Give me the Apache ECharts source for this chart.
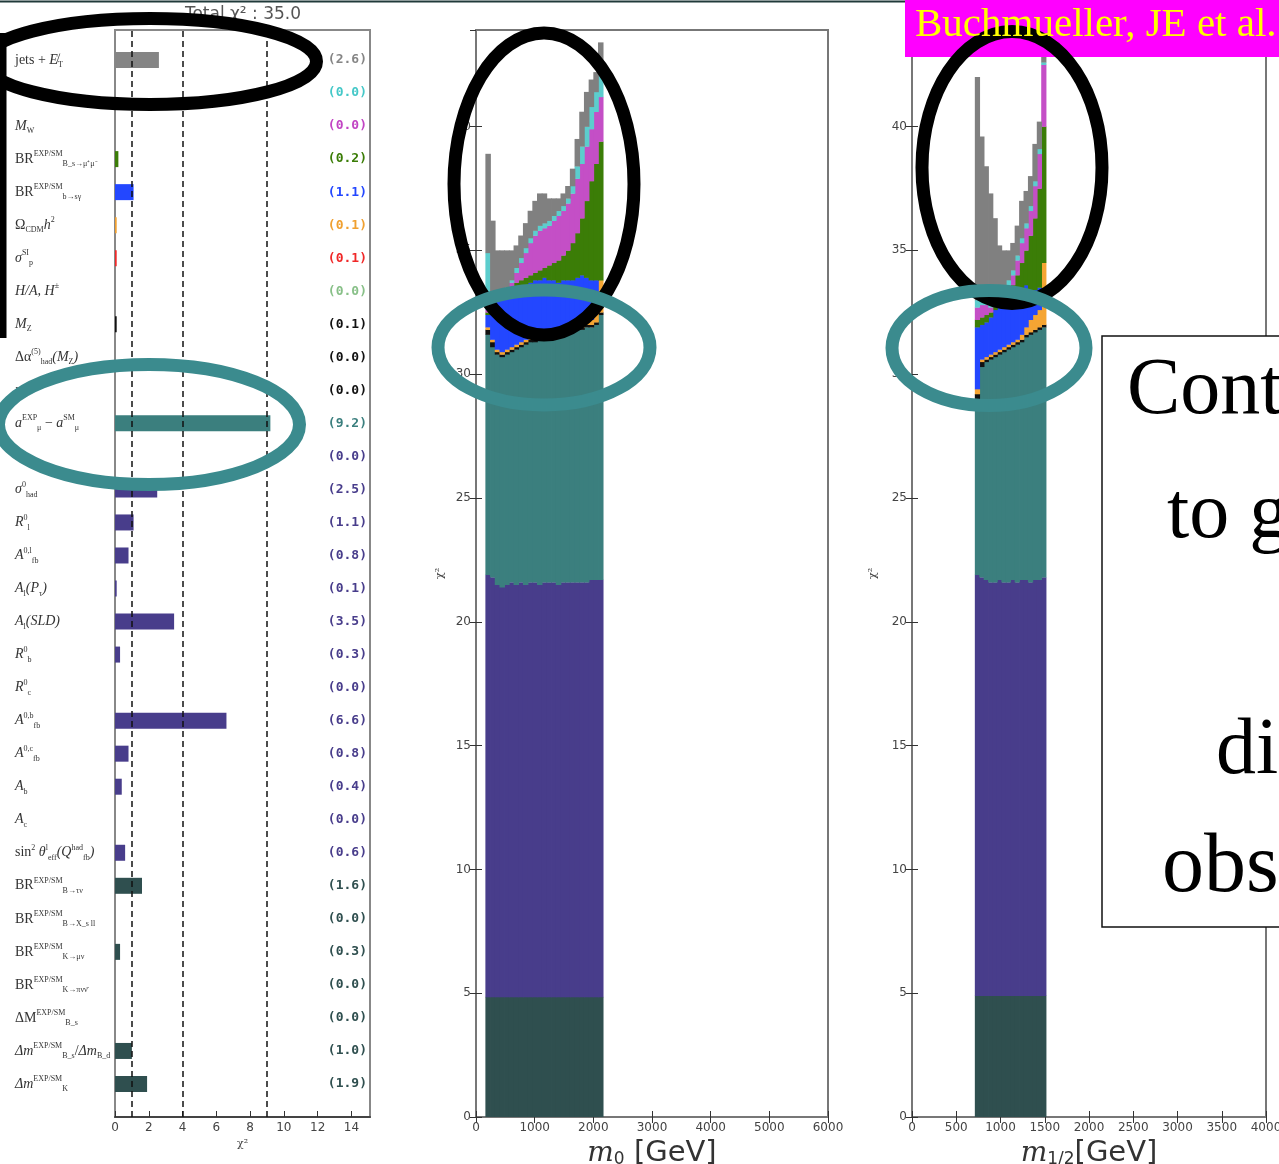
<!DOCTYPE html>
<html><head><meta charset="utf-8">
<script src="https://cdn.jsdelivr.net/npm/echarts/dist/echarts.min.js"></script>
<style>html,body{margin:0;padding:0;background:#fff}#c{width:1279px;height:1164px}</style>
</head><body><div id="c"></div>
<script>
// ---------- left panel: chi2 contributions by observable ----------
const rowLabels = [
  '{r|jets + }{i|E̸}{sb|T}',
  '',
  '{i|M}{sb|W}',
  '{r|BR}{sp|EXP/SM}{sb|B_s→μ⁺μ⁻}',
  '{r|BR}{sp|EXP/SM}{sb|b→sγ}',
  '{r|Ω}{sb|CDM}{i|h}{sp|2}',
  '{i|σ}{sp|SI}{sb|p}',
  '{i|H/A, H}{sp|±}',
  '{i|M}{sb|Z}',
  '{r|Δα}{sp|(5)}{sb|had}{i|(M}{sb|Z}{i|)}',
  '{i|m}{sb|t}',
  '{i|a}{sp|EXP}{sb|μ}{r| − }{i|a}{sp|SM}{sb|μ}',
  '{r|Γ}{sb|Z}',
  '{i|σ}{sp|0}{sb|had}',
  '{i|R}{sp|0}{sb|l}',
  '{i|A}{sp|0,l}{sb|fb}',
  '{i|A}{sb|l}{i|(P}{sb|τ}{i|)}',
  '{i|A}{sb|l}{i|(SLD)}',
  '{i|R}{sp|0}{sb|b}',
  '{i|R}{sp|0}{sb|c}',
  '{i|A}{sp|0,b}{sb|fb}',
  '{i|A}{sp|0,c}{sb|fb}',
  '{i|A}{sb|b}',
  '{i|A}{sb|c}',
  '{r|sin}{sp|2}{r| }{i|θ}{sp|l}{sb|eff}{i|(Q}{sp|had}{sb|fb}{i|)}',
  '{r|BR}{sp|EXP/SM}{sb|B→τν}',
  '{r|BR}{sp|EXP/SM}{sb|B→X_s ll}',
  '{r|BR}{sp|EXP/SM}{sb|K→μν}',
  '{r|BR}{sp|EXP/SM}{sb|K→πνν̄}',
  '{r|ΔM}{sp|EXP/SM}{sb|B_s}',
  '{i|Δm}{sp|EXP/SM}{sb|B_s}{r|/}{i|Δm}{sb|B_d}',
  '{i|Δm}{sp|EXP/SM}{sb|K}'
];
const rowValues = [2.6, 0.0, 0.0, 0.2, 1.1, 0.1, 0.1, 0.0, 0.1, 0.0, 0.0, 9.2, 0.0, 2.5, 1.1, 0.8,
                   0.1, 3.5, 0.3, 0.0, 6.6, 0.8, 0.4, 0.0, 0.6, 1.6, 0.0, 0.3, 0.0, 0.0, 1.0, 1.9];
const rowColors = ['#858585', '#45c8c8', '#c244c4', '#3b7d07', '#2347ff', '#f0a030', '#f02828', '#88c088',
  '#111111', '#111111', '#111111', '#3b7f7e',
  '#483d8b', '#483d8b', '#483d8b', '#483d8b', '#483d8b', '#483d8b', '#483d8b', '#483d8b', '#483d8b',
  '#483d8b', '#483d8b', '#483d8b', '#483d8b',
  '#2f4f4f', '#2f4f4f', '#2f4f4f', '#2f4f4f', '#2f4f4f', '#2f4f4f', '#2f4f4f'];
const refLines = [1, 4, 9];
const totalChi2 = 35.0;

// ---------- middle panel: stacked chi2 vs m0 (cumulative layer tops) ----------
const m0Centers = [200, 280, 360, 440, 520, 600, 680, 760, 840, 920, 1000, 1080, 1160, 1240, 1320, 1400, 1480, 1560, 1640, 1720, 1800, 1880, 1960, 2040, 2120];
const m0BinWidth = 80;
const m0SlateTop   = [4.85, 4.85, 4.85, 4.85, 4.85, 4.85, 4.85, 4.85, 4.85, 4.85, 4.85, 4.85, 4.85, 4.85, 4.85, 4.85, 4.85, 4.85, 4.85, 4.85, 4.85, 4.85, 4.85, 4.85, 4.85];
const m0PurpleTop  = [21.9, 21.8, 21.5, 21.4, 21.5, 21.6, 21.5, 21.6, 21.5, 21.6, 21.6, 21.5, 21.6, 21.6, 21.6, 21.5, 21.6, 21.6, 21.6, 21.6, 21.6, 21.6, 21.7, 21.7, 21.7];
const m0TealTop    = [31.6, 31.1, 30.8, 30.7, 30.8, 30.9, 31.0, 31.1, 31.2, 31.3, 31.3, 31.4, 31.5, 31.5, 31.6, 31.6, 31.6, 31.7, 31.7, 31.8, 31.8, 31.9, 31.9, 32.0, 32.4];
const m0BlackTop   = [31.8, 31.3, 30.9, 30.8, 30.9, 31.0, 31.1, 31.2, 31.3, 31.4, 31.4, 31.5, 31.6, 31.6, 31.7, 31.7, 31.7, 31.8, 31.8, 31.9, 31.9, 32.0, 32.0, 32.1, 32.5];
const m0OrangeTop  = [31.9, 31.4, 31.0, 30.9, 31.0, 31.1, 31.2, 31.3, 31.4, 31.5, 31.5, 31.6, 31.7, 31.7, 31.8, 31.8, 31.8, 31.9, 31.9, 32.0, 32.0, 32.1, 32.2, 32.5, 33.8];
const m0BlueTop    = [32.4, 32.7, 33.0, 33.1, 33.2, 33.3, 33.4, 33.5, 33.6, 33.7, 33.8, 33.8, 33.9, 33.8, 33.8, 33.7, 33.8, 33.8, 33.8, 33.9, 34.0, 33.9, 33.8, 33.8, 33.8];
const m0GreenTop   = [32.5, 32.8, 33.1, 33.2, 33.3, 33.5, 33.7, 33.8, 33.9, 34.0, 34.1, 34.2, 34.3, 34.4, 34.5, 34.6, 34.8, 35.0, 35.3, 35.7, 36.3, 37.0, 37.8, 38.5, 39.4];
const m0MagentaTop = [32.6, 32.9, 33.2, 33.3, 33.4, 33.7, 34.1, 34.5, 34.9, 35.3, 35.6, 35.8, 35.9, 36.0, 36.2, 36.4, 36.6, 36.9, 37.3, 37.9, 38.5, 39.2, 39.9, 40.6, 41.2];
const m0CyanTop    = [34.9, 33.1, 33.3, 33.4, 33.5, 33.8, 34.3, 34.7, 35.1, 35.5, 35.8, 36.0, 36.1, 36.2, 36.4, 36.6, 36.8, 37.1, 37.6, 38.4, 39.2, 40.0, 40.8, 41.4, 42.1];
const m0GrayTop    = [38.9, 36.2, 35.0, 35.0, 35.0, 35.0, 35.2, 35.6, 36.1, 36.6, 37.0, 37.3, 37.3, 37.1, 37.1, 37.1, 37.3, 37.6, 38.3, 39.5, 40.6, 41.4, 41.9, 42.2, 43.4];

// ---------- right panel: stacked chi2 vs m1/2 (cumulative layer tops) ----------
const m12Centers = [735, 785, 835, 885, 935, 985, 1035, 1085, 1135, 1185, 1235, 1285, 1335, 1385, 1435, 1485];
const m12BinWidth = 50;
const m12SlateTop   = [4.9, 4.9, 4.9, 4.9, 4.9, 4.9, 4.9, 4.9, 4.9, 4.9, 4.9, 4.9, 4.9, 4.9, 4.9, 4.9];
const m12PurpleTop  = [21.9, 21.8, 21.7, 21.6, 21.6, 21.7, 21.6, 21.6, 21.7, 21.6, 21.7, 21.7, 21.6, 21.7, 21.7, 21.8];
const m12TealTop    = [29.0, 30.3, 30.5, 30.6, 30.7, 30.8, 30.9, 31.0, 31.1, 31.2, 31.3, 31.5, 31.6, 31.7, 31.8, 31.9];
const m12BlackTop   = [29.2, 30.5, 30.6, 30.7, 30.8, 30.9, 31.0, 31.1, 31.2, 31.3, 31.4, 31.6, 31.7, 31.8, 31.9, 32.0];
const m12OrangeTop  = [29.4, 30.6, 30.7, 30.8, 30.9, 31.0, 31.1, 31.2, 31.3, 31.4, 31.6, 31.9, 32.2, 32.4, 32.6, 34.5];
const m12BlueTop    = [31.9, 32.0, 32.1, 32.3, 32.6, 33.0, 33.1, 33.0, 33.1, 33.2, 33.3, 33.6, 33.3, 33.4, 33.5, 34.5];
const m12GreenTop   = [32.2, 32.3, 32.4, 32.5, 32.8, 33.1, 33.2, 33.3, 33.6, 34.0, 34.5, 35.0, 35.6, 36.3, 37.5, 40.0];
const m12MagentaTop = [32.7, 32.8, 32.8, 32.7, 33.0, 33.3, 33.4, 33.6, 34.0, 34.6, 35.3, 35.9, 36.6, 37.6, 38.9, 42.5];
const m12CyanTop    = [33.0, 33.1, 33.0, 32.9, 33.1, 33.4, 33.5, 33.8, 34.2, 34.8, 35.5, 36.1, 36.8, 37.8, 39.1, 42.6];
const m12GrayTop    = [42.0, 39.6, 38.4, 37.3, 36.3, 35.2, 35.0, 35.0, 35.3, 36.0, 37.0, 37.4, 38.0, 39.3, 40.2, 43.2];

const layerColors = ['#2f4f4f', '#483d8b', '#3b7f7e', '#111111', '#f5a533', '#2347ff', '#3b7d07', '#c44fc6', '#5ccdcd', '#808080'];

const valueLabels = rowValues.map(v => '(' + v.toFixed(1) + ')');

function histRender(width) {
  return function (params, api) {
    const x = api.value(0), lo = api.value(1), hi = api.value(2);
    if (!(hi > lo)) return;
    const a = api.coord([x - width / 2, hi]);
    const b = api.coord([x + width / 2, lo]);
    return { type: 'rect', shape: { x: a[0], y: a[1], width: b[0] - a[0] + 0.8, height: b[1] - a[1] + 0.3 },
      style: { fill: api.visual('color') } };
  };
}
function stackSeries(centers, tops, width, xi, yi) {
  return tops.map((top, k) => ({
    type: 'custom', coordinateSystem: 'cartesian2d', xAxisIndex: xi, yAxisIndex: yi, silent: true, clip: true,
    itemStyle: { color: layerColors[k] },
    renderItem: histRender(width),
    encode: { x: 0, y: [1, 2] },
    data: centers.map((c, i) => [c, k === 0 ? 0 : tops[k - 1][i], top[i]])
  }));
}
const m0Layers = [m0SlateTop, m0PurpleTop, m0TealTop, m0BlackTop, m0OrangeTop, m0BlueTop, m0GreenTop, m0MagentaTop, m0CyanTop, m0GrayTop];
const m12Layers = [m12SlateTop, m12PurpleTop, m12TealTop, m12BlackTop, m12OrangeTop, m12BlueTop, m12GreenTop, m12MagentaTop, m12CyanTop, m12GrayTop];

const tickFont = { fontSize: 12, color: '#444', fontFamily: 'DejaVu Sans' };
function massXAxis(grid, max, interval, nameRich) {
  return [{
    gridIndex: grid, type: 'value', min: 0, max: max, interval: interval,
    axisLine: { show: true, lineStyle: { color: '#555', width: 2 } },
    axisTick: { inside: true, length: 6, lineStyle: { color: '#333' } },
    axisLabel: Object.assign({ margin: 5, formatter: v => String(v) }, tickFont),
    splitLine: { show: false },
    name: nameRich, nameLocation: 'middle', nameGap: 11,
    nameTextStyle: { rich: {
      m: { fontFamily: 'DejaVu Serif', fontStyle: 'italic', fontSize: 28, color: '#333' },
      s: { fontFamily: 'DejaVu Sans', fontSize: 17, color: '#333', verticalAlign: 'bottom', lineHeight: 30, padding: [12, 0, 0, 0] },
      g: { fontFamily: 'DejaVu Sans', fontSize: 29, color: '#333' } } }
  }, {
    gridIndex: grid, type: 'value', min: 0, max: max, interval: interval, position: 'top',
    axisLine: { show: true, lineStyle: { color: '#777', width: 2 } },
    axisTick: { inside: true, length: 6, lineStyle: { color: '#333' } },
    axisLabel: { show: false }, splitLine: { show: false }
  }];
}
function chiYAxis(grid, gap) {
  return [{
    gridIndex: grid, type: 'value', min: 0, max: 43.9, interval: 5,
    axisLine: { show: true, lineStyle: { color: '#777', width: 2 } },
    axisTick: { inside: true, length: 6, lineStyle: { color: '#333' } },
    axisLabel: Object.assign({ margin: 5, showMaxLabel: false }, tickFont),
    splitLine: { show: false },
    name: 'χ²', nameLocation: 'middle', nameGap: gap,
    nameTextStyle: { fontSize: 11, color: '#444', fontFamily: 'DejaVu Serif' }
  }, {
    gridIndex: grid, type: 'value', min: 0, max: 43.9, interval: 5, position: 'right',
    axisLine: { show: true, lineStyle: { color: '#777', width: 2 } },
    axisTick: { inside: true, length: 6, lineStyle: { color: '#333' } },
    axisLabel: { show: false }, splitLine: { show: false }
  }];
}

const ser = 'Liberation Serif';
const option = {
  animation: false,
  backgroundColor: '#ffffff',
  grid: [
    { left: 115, top: 30, width: 255, height: 1087, show: true, borderColor: '#888', borderWidth: 2, outerBoundsMode: 'none', containLabel: false },
    { left: 115, top: 43.5, width: 255, height: 1057, outerBoundsMode: 'none', containLabel: false },
    { left: 476, top: 30, width: 352, height: 1087, show: true, borderColor: '#777', borderWidth: 2, outerBoundsMode: 'none', containLabel: false },
    { left: 912, top: 30, width: 354, height: 1087, show: true, borderColor: '#777', borderWidth: 2, outerBoundsMode: 'none', containLabel: false }
  ],
  xAxis: [
    { gridIndex: 0, type: 'value', min: 0, max: 15.1, interval: 2,
      axisLine: { show: true, lineStyle: { color: '#444', width: 2 } },
      axisTick: { inside: true, length: 6, lineStyle: { color: '#333' } },
      axisLabel: Object.assign({ margin: 5, showMaxLabel: false }, tickFont),
      splitLine: { show: false },
      name: 'χ²', nameLocation: 'middle', nameGap: 19,
      nameTextStyle: { fontSize: 11, color: '#444', fontFamily: 'DejaVu Serif' } },
    { gridIndex: 1, type: 'value', min: 0, max: 15.1, show: false },
    ...massXAxis(2, 6000, 1000, '{m|m}{s|0}{g| [GeV]}'),
    ...massXAxis(3, 4000, 500, '{m|m}{s|1/2}{g|[GeV]}')
  ],
  yAxis: [
    { gridIndex: 0, type: 'value', min: 0, max: 1, show: false },
    { gridIndex: 1, type: 'category', inverse: true, data: rowLabels,
      axisLine: { show: false }, axisTick: { show: false },
      axisLabel: { interval: 0, align: 'left', margin: 100,
        rich: {
          r: { fontFamily: ser, fontSize: 14, color: '#333', lineHeight: 18 },
          i: { fontFamily: ser, fontStyle: 'italic', fontSize: 14, color: '#333', lineHeight: 18 },
          sp: { fontFamily: ser, fontSize: 8, color: '#333', lineHeight: 10, verticalAlign: 'top' },
          sb: { fontFamily: ser, fontSize: 8, color: '#333', lineHeight: 10, verticalAlign: 'bottom' }
        } } },
    { gridIndex: 1, type: 'category', inverse: true, position: 'right', data: valueLabels,
      axisLine: { show: false }, axisTick: { show: false },
      axisLabel: { interval: 0, inside: true, margin: 3, fontFamily: 'DejaVu Sans Mono', fontWeight: 'bold', fontSize: 13,
        color: function (v, i) { return rowColors[i]; } } },
    ...chiYAxis(2, 30),
    ...chiYAxis(3, 33)
  ],
  series: [
    { type: 'bar', xAxisIndex: 1, yAxisIndex: 1, barWidth: 16, silent: true,
      data: rowValues.map((v, i) => ({ value: v, itemStyle: { color: rowColors[i] } })) },
    { type: 'line', xAxisIndex: 0, yAxisIndex: 0, data: [[0, -1]], symbol: 'none', silent: true,
      lineStyle: { opacity: 0 },
      markLine: { silent: true, symbol: ['none', 'none'], label: { show: false },
        lineStyle: { color: '#111', type: [6, 4], width: 1.5 },
        data: refLines.map(v => ({ xAxis: v })) } },
    ...stackSeries(m0Centers, m0Layers, m0BinWidth, 2, 3),
    ...stackSeries(m12Centers, m12Layers, m12BinWidth, 4, 5)
  ],
  graphic: [
    { type: 'line', z: 100, shape: { x1: 0, y1: 1.5, x2: 905, y2: 1.5 }, style: { stroke: '#203a3a', lineWidth: 2 } },
    { type: 'text', z: 100, style: { text: 'Total χ² : ' + totalChi2.toFixed(1), x: 243, y: 15,
      textAlign: 'center', textVerticalAlign: 'middle', align: 'center', verticalAlign: 'middle',
      font: '17px "DejaVu Sans"', fill: '#555' } },
    { type: 'rect', z: 100, shape: { x: 905, y: 0, width: 380, height: 57 }, style: { fill: '#ff00ff' } },
    { type: 'text', z: 101, style: { text: 'Buchmueller, JE et al.', x: 915, y: 25,
      textAlign: 'left', textVerticalAlign: 'middle', align: 'left', verticalAlign: 'middle',
      font: '41px "Liberation Serif"', fill: '#ffff00' } },
    { type: 'rect', z: 100, shape: { x: 1102, y: 336, width: 200, height: 591 }, style: { fill: '#fff', stroke: '#111', lineWidth: 1.5 } },
    { type: 'text', z: 101, style: { text: 'Contributions', x: 1127, y: 392, textVerticalAlign: 'middle', verticalAlign: 'middle', font: '80px "Liberation Serif"', fill: '#000' } },
    { type: 'text', z: 101, style: { text: 'to global χ²', x: 1167, y: 516, textVerticalAlign: 'middle', verticalAlign: 'middle', font: '80px "Liberation Serif"', fill: '#000' } },
    { type: 'text', z: 101, style: { text: 'different', x: 1216, y: 752, textVerticalAlign: 'middle', verticalAlign: 'middle', font: '80px "Liberation Serif"', fill: '#000' } },
    { type: 'text', z: 101, style: { text: 'observables', x: 1162, y: 869, textVerticalAlign: 'middle', verticalAlign: 'middle', font: '84px "Liberation Serif"', fill: '#000' } },
    // annotation ellipses
    { type: 'rect', z: 100, shape: { x: 0, y: 33, width: 6.5, height: 305 }, style: { fill: '#000' } },
    { type: 'ellipse', z: 100, shape: { cx: 150, cy: 61.5, rx: 166.5, ry: 43 }, style: { fill: 'none', stroke: '#000', lineWidth: 13 } },
    { type: 'ellipse', z: 100, shape: { cx: 149, cy: 424.5, rx: 150.5, ry: 60 }, style: { fill: 'none', stroke: '#3b8b8e', lineWidth: 13 } },
    { type: 'ellipse', z: 100, shape: { cx: 544, cy: 184, rx: 90, ry: 151 }, style: { fill: 'none', stroke: '#000', lineWidth: 13 } },
    { type: 'ellipse', z: 101, shape: { cx: 544, cy: 347.5, rx: 106, ry: 57.5 }, style: { fill: 'none', stroke: '#3b8b8e', lineWidth: 13 } },
    { type: 'ellipse', z: 100, shape: { cx: 1012, cy: 167.5, rx: 90, ry: 136 }, style: { fill: 'none', stroke: '#000', lineWidth: 13 } },
    { type: 'ellipse', z: 101, shape: { cx: 989, cy: 348, rx: 97, ry: 57.5 }, style: { fill: 'none', stroke: '#3b8b8e', lineWidth: 13 } }
  ]
};
const chart = echarts.init(document.getElementById('c'), null, { renderer: 'canvas', width: 1279, height: 1164 });
chart.setOption(option);
</script>
</body></html>
